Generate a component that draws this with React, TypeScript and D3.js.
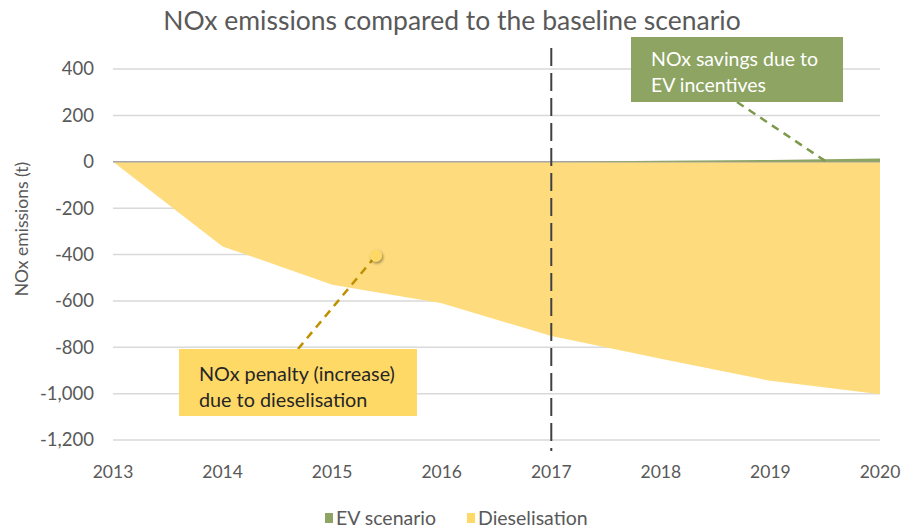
import React from "react";
import * as d3 from "d3";

const years = [2013, 2014, 2015, 2016, 2017, 2018, 2019, 2020];
const dieselisation = [0, -365, -530, -610, -752, -850, -945, -1003];
const evScenario = [0, 0, 0, 0, 0, 4, 8, 14];
const yTicks = [400, 200, 0, -200, -400, -600, -800, -1000, -1200];
const legendItems = ["EV scenario", "Dieselisation"];

const FONT = "Lato, 'Open Sans', sans-serif";
const GREEN = "#8da462";
const YELLOW = "#fedc7e";
const TEXT = "#595959";

const App: React.FC = () => {
  const width = 903;
  const height = 531;

  const x = d3.scaleLinear().domain([2013, 2020]).range([113, 880]);
  const y = d3.scaleLinear().domain([-1200, 400]).range([440, 69]);

  const area = d3
    .area<number>()
    .x((_, i) => x(years[i]))
    .y0(() => y(0))
    .y1((d) => y(d));

  const fmt = d3.format(",");

  // annotation anchors (data space)
  const dot = { year: 2015.4, value: -405 };
  const evPoint = { year: 2019.5, value: 12 };

  return (
    <svg
      width={width}
      height={height}
      style={{ position: "absolute", left: 0, top: 0, background: "#fff" }}
      fontFamily={FONT}
    >
      <text x={452} y={30} textAnchor="middle" fontSize={26.5} fill={TEXT}>
        NOx emissions compared to the baseline scenario
      </text>

      {/* gridlines */}
      {yTicks.map((t) => (
        <line
          key={t}
          x1={x(2013)}
          x2={x(2020)}
          y1={y(t)}
          y2={y(t)}
          stroke="#d9d9d9"
          strokeWidth={1.5}
        />
      ))}

      {/* areas */}
      <path d={area(dieselisation) || ""} fill={YELLOW} />
      <line
        x1={x(2013)}
        x2={x(2020)}
        y1={y(0)}
        y2={y(0)}
        stroke="#a6a6a6"
        strokeWidth={1.5}
      />
      <path d={area(evScenario) || ""} fill={GREEN} />

      {/* y ticks */}
      {yTicks.map((t) => (
        <text
          key={t}
          x={94}
          y={y(t)}
          dy="0.35em"
          textAnchor="end"
          fontSize={18.5}
          fill={TEXT}
        >
          {fmt(t).replace("−", "-")}
        </text>
      ))}

      {/* x ticks */}
      {years.map((yr) => (
        <text
          key={yr}
          x={x(yr)}
          y={478}
          textAnchor="middle"
          fontSize={17.5}
          fill={TEXT}
        >
          {yr}
        </text>
      ))}

      <text
        transform={`translate(22,229) rotate(-90)`}
        textAnchor="middle"
        dy="0.35em"
        fontSize={17.5}
        fill={TEXT}
      >
        NOx emissions (t)
      </text>

      {/* 2017 marker */}
      <line
        x1={x(2017)}
        x2={x(2017)}
        y1={48}
        y2={451}
        stroke="#404040"
        strokeWidth={2}
        strokeDasharray="18,7"
      />

      {/* EV annotation */}
      <line
        x1={737}
        y1={102}
        x2={x(evPoint.year)}
        y2={y(evPoint.value) + 2}
        stroke="#7d9a4c"
        strokeWidth={2.5}
        strokeDasharray="8,6"
      />
      <rect x={631} y={37} width={212} height={65} fill={GREEN} />
      <text x={651} y={66} fontSize={19.5} fill="#fff">
        NOx savings due to
      </text>
      <text x={651} y={92} fontSize={19.5} fill="#fff">
        EV incentives
      </text>

      {/* dieselisation annotation */}
      <defs>
        <filter id="shadow" x="-100%" y="-100%" width="300%" height="300%">
          <feDropShadow dx="1" dy="1.5" stdDeviation="1.5" floodColor="#000" floodOpacity="0.45" />
        </filter>
      </defs>
      <line
        x1={298}
        y1={349}
        x2={x(dot.year)}
        y2={y(dot.value)}
        stroke="#bf9000"
        strokeWidth={2.5}
        strokeDasharray="8,6"
      />
      <circle
        cx={x(dot.year)}
        cy={y(dot.value)}
        r={6}
        fill="#ffd966"
        filter="url(#shadow)"
      />
      <rect x={179} y={349} width={238} height={67} fill="#ffd966" />
      <text x={199} y={381} fontSize={19.8} fill="#262626">
        NOx penalty (increase)
      </text>
      <text x={199} y={407} fontSize={19.8} fill="#262626">
        due to dieselisation
      </text>

      {/* legend */}
      {legendItems.map((name, i) => {
        const lx = i === 0 ? 325 : 467;
        return (
          <g key={name}>
            <rect
              x={lx}
              y={513}
              width={8}
              height={10}
              fill={i === 0 ? GREEN : "#ffd966"}
            />
            <text x={lx + 11} y={525} fontSize={19.5} fill={TEXT}>
              {name}
            </text>
          </g>
        );
      })}
    </svg>
  );
};

export default App;
